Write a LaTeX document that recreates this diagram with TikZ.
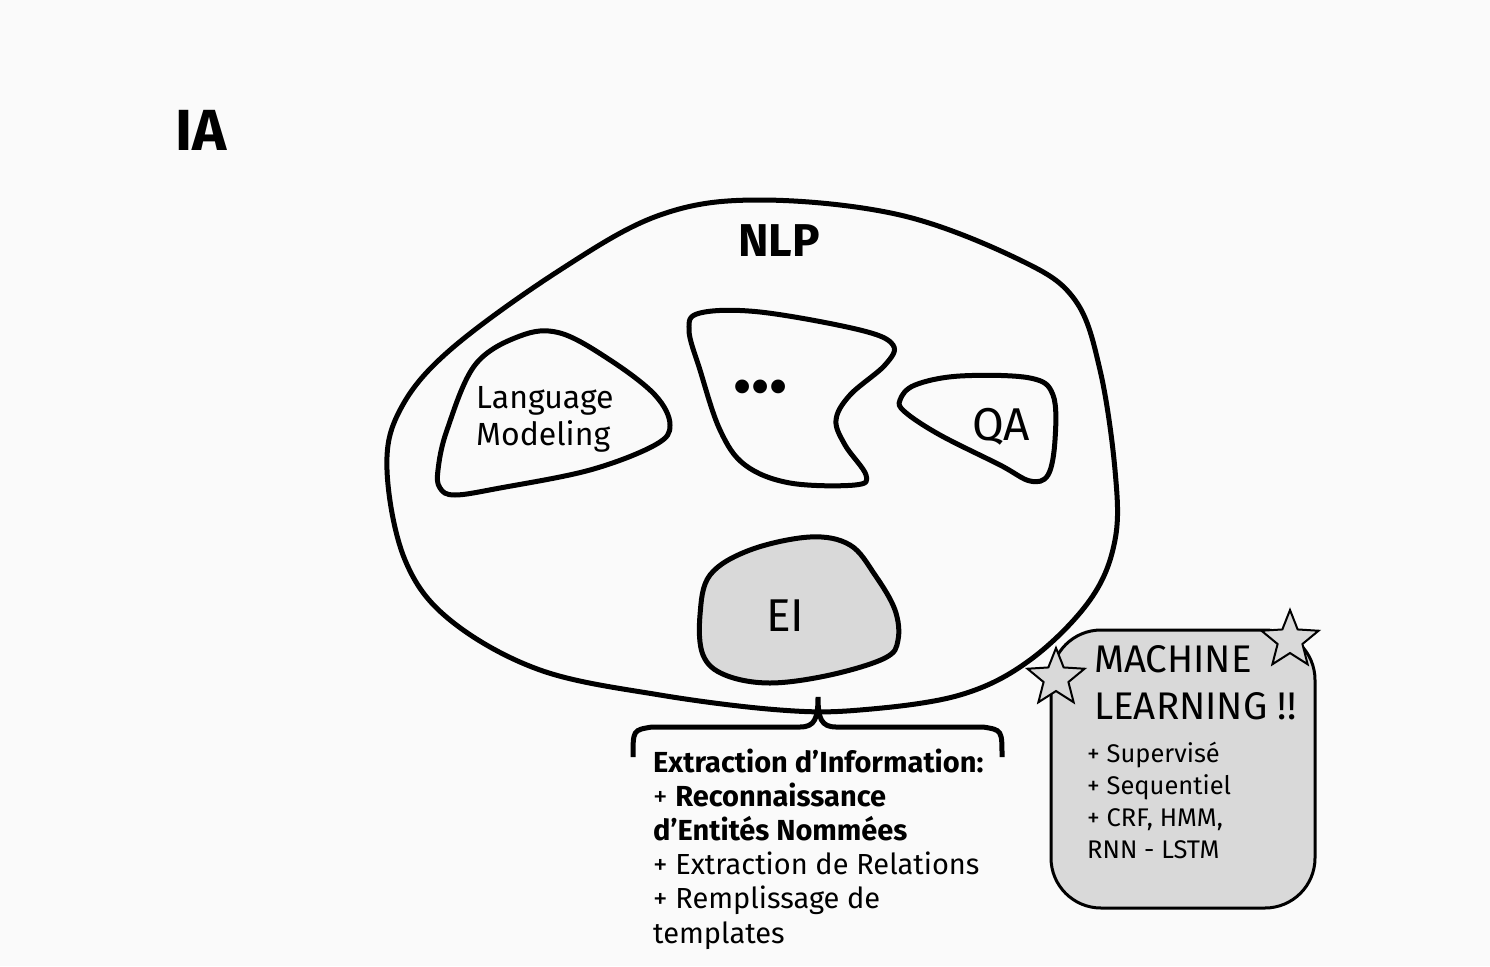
\documentclass[tikz,border=0pt]{standalone}
\usepackage{fontspec}
\setmainfont{Fira Sans}
\usetikzlibrary{shapes.geometric}
\definecolor{bg}{HTML}{FAFAFA}
\definecolor{blobgray}{HTML}{D9D9D9}
\begin{document}
\begin{tikzpicture}[x=1pt,y=-1pt,
  blob/.style={line width=5pt, line join=round},
  txt/.style={inner sep=0pt, anchor=base west, align=left},
  mlstar/.style={star, star points=5, star point ratio=2.3, minimum size=60pt, draw, line width=2pt, fill=blobgray, inner sep=0pt}]
\fill[bg] (0,0) rectangle (1490,966);
\useasboundingbox (0,0) rectangle (1490,966);
% NLP outer blob
\draw[blob] plot[smooth cycle, tension=0.6] coordinates {(760,200) (900,215) (1020,260) (1075,300) (1100,370) (1115,470) (1115,540) (1090,600) (1030,660) (960,695) (860,710) (780,710) (660,695) (540,670) (450,620) (405,560) (387,470) (400,410) (450,350) (560,270) (660,215)};
% Language modeling blob
\draw[blob] plot[smooth cycle, tension=0.6] coordinates {(438,470) (447,430) (475,365) (520,336) (560,333) (610,360) (655,395) (670,425) (655,445) (590,470) (500,488) (455,495) (440,488)};
% dots blob
\draw[blob] plot[smooth cycle, tension=0.6] coordinates {(689,330) (700,313) (760,312) (860,330) (893,345) (885,365) (850,395) (836,420) (845,445) (866,475) (855,485) (790,483) (745,465) (720,430) (700,370)};
% QA blob
\draw[blob] plot[smooth cycle, tension=0.6] coordinates {(900,400) (915,385) (960,376) (1030,378) (1053,395) (1055,440) (1048,475) (1030,481) (1000,465) (940,435) (905,412)};
% EI blob
\draw[blob, fill=blobgray] plot[smooth cycle, tension=0.6] coordinates {(700,615) (710,575) (750,550) (810,537) (850,545) (875,575) (895,610) (898,640) (885,658) (830,675) (770,683) (725,675) (703,655)};
% brace
\draw[line width=5pt] (633,757) .. controls (633,730) .. (652,727) -- (800,727) .. controls (815,727) and (818,718) .. (818,697) .. controls (818,718) and (821,727) .. (836,727) -- (983,727) .. controls (1002,730) .. (1002,757);
% ML box
\draw[line width=3pt, fill=blobgray, rounded corners=50pt] (1051,630) rectangle (1315,908);
\node[mlstar] (s1) at (1056,678) {};
\node[mlstar] (s2) at (1290,640) {};
% texts
\node[txt, font=\fontsize{58}{62}\selectfont\bfseries] (ia) at (175,150) {IA};
\node[txt, font=\fontsize{46}{50}\selectfont\bfseries] (nlp) at (738,256) {NLP};
\node[txt, font=\fontsize{32}{37}\selectfont] (lm) at (476,445) {Language\\Modeling};
\node[txt, font=\fontsize{76}{80}\selectfont\bfseries] (dots) at (733,392) {...};
\node[txt, font=\fontsize{46}{50}\selectfont] (qa) at (972,440) {QA};
\node[txt, font=\fontsize{46}{50}\selectfont] (ei) at (766,631) {EI};
\node[txt, font=\fontsize{38.5}{47}\selectfont] (ml) at (1094,719) {MACHINE\\LEARNING !!};
\node[txt, font=\fontsize{25.5}{32}\selectfont] (mllist) at (1087,858) {+ Supervisé\\+ Sequentiel\\+ CRF, HMM,\\RNN - LSTM};
\node[txt, font=\fontsize{29}{34.2}\selectfont] (ex) at (653,943) {\textbf{Extraction d’Information:}\\+ \textbf{Reconnaissance}\\\textbf{d’Entités Nommées}\\+ Extraction de Relations\\+ Remplissage de\\templates};
\end{tikzpicture}
\end{document}
